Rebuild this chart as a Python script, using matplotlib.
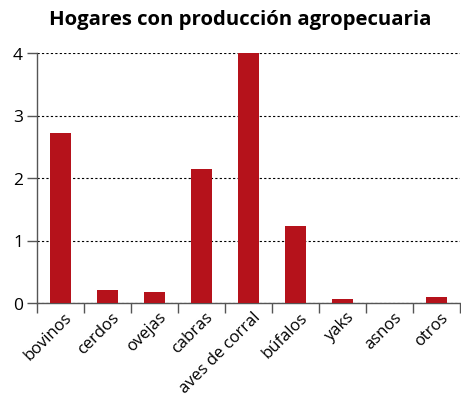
import numpy as np
import matplotlib.pyplot as plt

# data
categorias = ['bovinos', 'cerdos', 'ovejas', 'cabras', 'aves de corral',
              'búfalos', 'yaks', 'asnos', 'otros']
hogares = [2.72, 0.21, 0.18, 2.14, 4.0, 1.23, 0.06, 0.0, 0.09]
y_ticks = [0, 1, 2, 3, 4]

plt.rcParams['font.family'] = ['Open Sans', 'DejaVu Sans']

fig = plt.figure(figsize=(4.61, 4.02), dpi=100)
ax = fig.add_axes([37/461, 98/402, 423/461, 250/402])

x = np.arange(len(categorias))
ax.bar(x, hogares, width=0.43, color='#B5121B', zorder=3)

ax.set_xlim(-0.5, len(categorias) - 0.5)
ax.set_ylim(0, 4)
ax.set_yticks(y_ticks)
ax.tick_params(axis='y', length=7, width=1, color='#555555', labelsize=12.5, pad=3)

# labels at bar centres, tick marks between the bars
ax.set_xticks(x + 0.08)
ax.set_xticklabels(categorias, rotation=45, ha='right', rotation_mode='anchor', fontsize=12)
ax.tick_params(axis='x', which='major', length=0, pad=4)
ax.set_xticks(np.arange(len(categorias) + 1) - 0.5, minor=True)
ax.tick_params(axis='x', which='minor', length=7, width=1, color='#555555')

ax.grid(axis='y', linestyle=(0, (2, 2)), color='black', linewidth=0.8, zorder=0)

for s in ['top', 'right']:
    ax.spines[s].set_visible(False)
for s in ['left', 'bottom']:
    ax.spines[s].set_color('#555555')
    ax.spines[s].set_linewidth(1)

fig.text(0.52, 0.95, 'Hogares con producción agropecuaria', ha='center', va='center',
         fontsize=14.7, fontweight='bold')

fig.savefig('out.png', dpi=100)
